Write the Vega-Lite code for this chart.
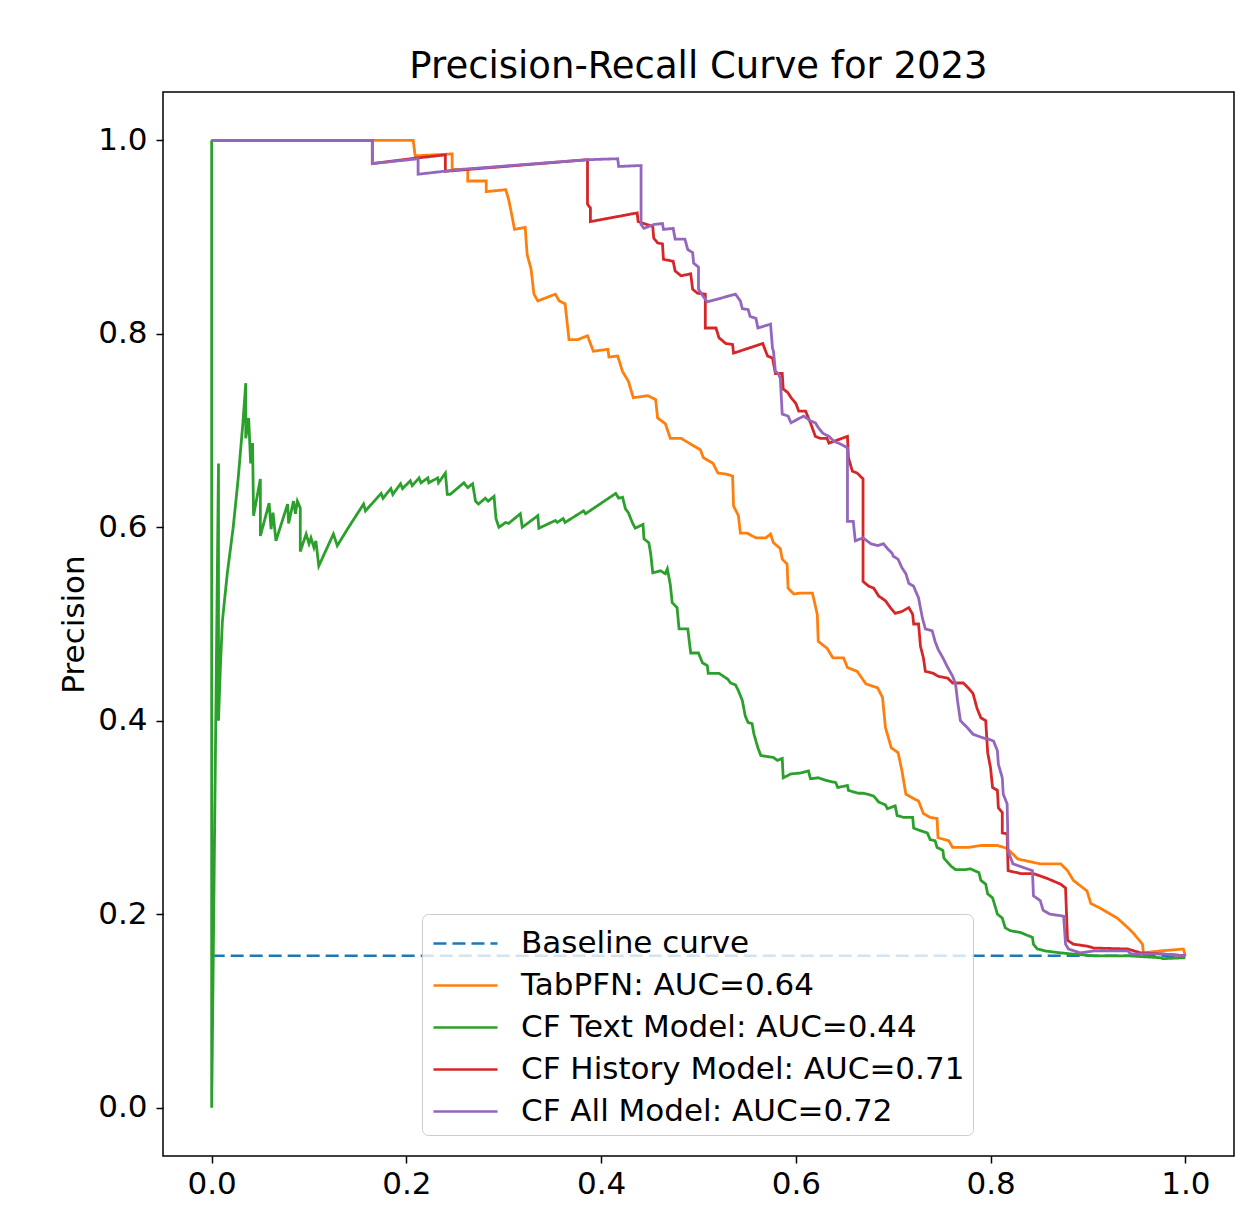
{
  "$schema": "https://vega.github.io/schema/vega-lite/v6.json",
  "width": 1071,
  "height": 1064,
  "autosize": "none",
  "padding": {"left": 163, "top": 92, "right": 6, "bottom": 50},
  "background": "white",
  "title": {"text": "Precision-Recall Curve for 2023", "fontSize": 37, "font": "DejaVu Sans", "fontWeight": "normal", "color": "black", "frame": "group", "anchor": "middle", "offset": 6},
  "config": {
    "font": "DejaVu Sans",
    "view": {"stroke": "black", "strokeWidth": 1.5},
    "axis": {"grid": false, "domain": false, "labelFontSize": 31, "labelColor": "black", "labelFont": "DejaVu Sans", "titleFontSize": 31, "titleFont": "DejaVu Sans", "titleFontWeight": "normal", "titleColor": "black", "tickColor": "black", "tickSize": 7, "tickWidth": 1.5, "labelFlush": false, "labelOverlap": false}
  },
  "datasets": {
    "base": [{"r":0,"p":0.157},{"r":1,"p":0.157}],
    "tab": [{"r":0,"p":1},{"r":0.207,"p":1},{"r":0.209,"p":0.984},{"r":0.247,"p":0.986},{"r":0.247,"p":0.970},{"r":0.263,"p":0.970},{"r":0.263,"p":0.958},{"r":0.282,"p":0.958},{"r":0.282,"p":0.947},{"r":0.302,"p":0.949},{"r":0.305,"p":0.939},{"r":0.309,"p":0.919},{"r":0.311,"p":0.908},{"r":0.322,"p":0.910},{"r":0.324,"p":0.882},{"r":0.328,"p":0.867},{"r":0.331,"p":0.841},{"r":0.335,"p":0.834},{"r":0.353,"p":0.841},{"r":0.357,"p":0.834},{"r":0.363,"p":0.831},{"r":0.367,"p":0.794},{"r":0.376,"p":0.794},{"r":0.386,"p":0.798},{"r":0.392,"p":0.782},{"r":0.407,"p":0.784},{"r":0.408,"p":0.776},{"r":0.417,"p":0.777},{"r":0.422,"p":0.761},{"r":0.428,"p":0.751},{"r":0.433,"p":0.734},{"r":0.448,"p":0.736},{"r":0.456,"p":0.732},{"r":0.458,"p":0.713},{"r":0.466,"p":0.707},{"r":0.471,"p":0.692},{"r":0.482,"p":0.692},{"r":0.492,"p":0.686},{"r":0.502,"p":0.680},{"r":0.505,"p":0.672},{"r":0.515,"p":0.666},{"r":0.520,"p":0.656},{"r":0.528,"p":0.655},{"r":0.535,"p":0.653},{"r":0.536,"p":0.622},{"r":0.541,"p":0.612},{"r":0.543,"p":0.594},{"r":0.550,"p":0.594},{"r":0.559,"p":0.589},{"r":0.569,"p":0.589},{"r":0.574,"p":0.593},{"r":0.577,"p":0.584},{"r":0.584,"p":0.578},{"r":0.586,"p":0.567},{"r":0.591,"p":0.562},{"r":0.592,"p":0.537},{"r":0.598,"p":0.531},{"r":0.605,"p":0.532},{"r":0.617,"p":0.532},{"r":0.622,"p":0.510},{"r":0.623,"p":0.482},{"r":0.632,"p":0.475},{"r":0.638,"p":0.465},{"r":0.649,"p":0.465},{"r":0.653,"p":0.455},{"r":0.663,"p":0.451},{"r":0.672,"p":0.438},{"r":0.684,"p":0.434},{"r":0.689,"p":0.424},{"r":0.692,"p":0.393},{"r":0.698,"p":0.372},{"r":0.705,"p":0.367},{"r":0.709,"p":0.348},{"r":0.713,"p":0.324},{"r":0.720,"p":0.320},{"r":0.726,"p":0.317},{"r":0.731,"p":0.304},{"r":0.738,"p":0.300},{"r":0.745,"p":0.299},{"r":0.746,"p":0.279},{"r":0.757,"p":0.276},{"r":0.761,"p":0.269},{"r":0.777,"p":0.269},{"r":0.790,"p":0.271},{"r":0.807,"p":0.271},{"r":0.817,"p":0.268},{"r":0.828,"p":0.257},{"r":0.851,"p":0.252},{"r":0.872,"p":0.252},{"r":0.879,"p":0.245},{"r":0.885,"p":0.235},{"r":0.899,"p":0.224},{"r":0.903,"p":0.211},{"r":0.913,"p":0.206},{"r":0.930,"p":0.196},{"r":0.941,"p":0.186},{"r":0.947,"p":0.180},{"r":0.956,"p":0.169},{"r":0.957,"p":0.160},{"r":0.974,"p":0.162},{"r":0.998,"p":0.164},{"r":1.0,"p":0.157}],
    "text": [{"r":0,"p":1},{"r":0,"p":0},{"r":0.007,"p":0.666},{"r":0.007,"p":0.400},{"r":0.009,"p":0.457},{"r":0.011,"p":0.503},{"r":0.016,"p":0.552},{"r":0.022,"p":0.599},{"r":0.027,"p":0.648},{"r":0.032,"p":0.707},{"r":0.035,"p":0.749},{"r":0.035,"p":0.692},{"r":0.038,"p":0.713},{"r":0.040,"p":0.666},{"r":0.042,"p":0.687},{"r":0.043,"p":0.612},{"r":0.050,"p":0.650},{"r":0.050,"p":0.591},{"r":0.059,"p":0.625},{"r":0.061,"p":0.598},{"r":0.063,"p":0.615},{"r":0.066,"p":0.586},{"r":0.078,"p":0.624},{"r":0.079,"p":0.604},{"r":0.084,"p":0.627},{"r":0.086,"p":0.614},{"r":0.088,"p":0.627},{"r":0.091,"p":0.620},{"r":0.091,"p":0.575},{"r":0.097,"p":0.593},{"r":0.100,"p":0.583},{"r":0.102,"p":0.589},{"r":0.105,"p":0.579},{"r":0.107,"p":0.586},{"r":0.110,"p":0.560},{"r":0.125,"p":0.593},{"r":0.129,"p":0.581},{"r":0.140,"p":0.599},{"r":0.156,"p":0.624},{"r":0.158,"p":0.617},{"r":0.174,"p":0.635},{"r":0.176,"p":0.630},{"r":0.184,"p":0.640},{"r":0.186,"p":0.634},{"r":0.194,"p":0.645},{"r":0.196,"p":0.640},{"r":0.204,"p":0.648},{"r":0.206,"p":0.643},{"r":0.213,"p":0.651},{"r":0.215,"p":0.646},{"r":0.222,"p":0.651},{"r":0.223,"p":0.646},{"r":0.232,"p":0.651},{"r":0.233,"p":0.646},{"r":0.240,"p":0.656},{"r":0.242,"p":0.634},{"r":0.245,"p":0.634},{"r":0.259,"p":0.646},{"r":0.263,"p":0.641},{"r":0.268,"p":0.645},{"r":0.271,"p":0.627},{"r":0.274,"p":0.624},{"r":0.281,"p":0.630},{"r":0.284,"p":0.627},{"r":0.290,"p":0.632},{"r":0.292,"p":0.609},{"r":0.295,"p":0.600},{"r":0.302,"p":0.605},{"r":0.305,"p":0.604},{"r":0.317,"p":0.614},{"r":0.319,"p":0.600},{"r":0.335,"p":0.612},{"r":0.336,"p":0.599},{"r":0.353,"p":0.607},{"r":0.355,"p":0.605},{"r":0.361,"p":0.609},{"r":0.363,"p":0.605},{"r":0.382,"p":0.617},{"r":0.384,"p":0.614},{"r":0.415,"p":0.635},{"r":0.418,"p":0.630},{"r":0.422,"p":0.631},{"r":0.425,"p":0.619},{"r":0.428,"p":0.615},{"r":0.432,"p":0.605},{"r":0.435,"p":0.599},{"r":0.443,"p":0.603},{"r":0.444,"p":0.588},{"r":0.449,"p":0.584},{"r":0.451,"p":0.572},{"r":0.453,"p":0.553},{"r":0.461,"p":0.555},{"r":0.466,"p":0.552},{"r":0.468,"p":0.557},{"r":0.471,"p":0.541},{"r":0.473,"p":0.522},{"r":0.478,"p":0.517},{"r":0.480,"p":0.495},{"r":0.489,"p":0.495},{"r":0.492,"p":0.470},{"r":0.500,"p":0.470},{"r":0.504,"p":0.460},{"r":0.509,"p":0.457},{"r":0.510,"p":0.449},{"r":0.521,"p":0.449},{"r":0.530,"p":0.443},{"r":0.533,"p":0.439},{"r":0.538,"p":0.437},{"r":0.541,"p":0.431},{"r":0.545,"p":0.421},{"r":0.548,"p":0.405},{"r":0.551,"p":0.398},{"r":0.555,"p":0.397},{"r":0.557,"p":0.386},{"r":0.561,"p":0.372},{"r":0.564,"p":0.364},{"r":0.577,"p":0.362},{"r":0.581,"p":0.359},{"r":0.586,"p":0.361},{"r":0.587,"p":0.341},{"r":0.595,"p":0.345},{"r":0.605,"p":0.346},{"r":0.613,"p":0.348},{"r":0.615,"p":0.340},{"r":0.623,"p":0.341},{"r":0.632,"p":0.338},{"r":0.641,"p":0.336},{"r":0.643,"p":0.331},{"r":0.653,"p":0.333},{"r":0.654,"p":0.328},{"r":0.664,"p":0.325},{"r":0.669,"p":0.325},{"r":0.674,"p":0.324},{"r":0.680,"p":0.322},{"r":0.685,"p":0.316},{"r":0.692,"p":0.313},{"r":0.694,"p":0.309},{"r":0.702,"p":0.312},{"r":0.704,"p":0.302},{"r":0.711,"p":0.300},{"r":0.720,"p":0.300},{"r":0.721,"p":0.289},{"r":0.726,"p":0.287},{"r":0.735,"p":0.284},{"r":0.738,"p":0.277},{"r":0.743,"p":0.276},{"r":0.745,"p":0.269},{"r":0.751,"p":0.266},{"r":0.752,"p":0.258},{"r":0.759,"p":0.250},{"r":0.764,"p":0.246},{"r":0.774,"p":0.246},{"r":0.779,"p":0.247},{"r":0.788,"p":0.243},{"r":0.790,"p":0.235},{"r":0.795,"p":0.231},{"r":0.797,"p":0.221},{"r":0.802,"p":0.217},{"r":0.805,"p":0.207},{"r":0.807,"p":0.200},{"r":0.812,"p":0.196},{"r":0.815,"p":0.186},{"r":0.820,"p":0.183},{"r":0.831,"p":0.181},{"r":0.838,"p":0.178},{"r":0.843,"p":0.176},{"r":0.844,"p":0.169},{"r":0.848,"p":0.164},{"r":0.856,"p":0.162},{"r":0.872,"p":0.160},{"r":0.882,"p":0.159},{"r":0.906,"p":0.157},{"r":0.941,"p":0.157},{"r":0.974,"p":0.155},{"r":0.977,"p":0.154},{"r":1.0,"p":0.155}],
    "hist": [{"r":0,"p":1},{"r":0.165,"p":1},{"r":0.165,"p":0.976},{"r":0.213,"p":0.982},{"r":0.240,"p":0.985},{"r":0.240,"p":0.968},{"r":0.386,"p":0.980},{"r":0.386,"p":0.934},{"r":0.389,"p":0.930},{"r":0.389,"p":0.916},{"r":0.437,"p":0.925},{"r":0.438,"p":0.916},{"r":0.444,"p":0.914},{"r":0.453,"p":0.911},{"r":0.454,"p":0.899},{"r":0.458,"p":0.894},{"r":0.463,"p":0.893},{"r":0.464,"p":0.877},{"r":0.474,"p":0.875},{"r":0.476,"p":0.865},{"r":0.482,"p":0.860},{"r":0.492,"p":0.862},{"r":0.494,"p":0.846},{"r":0.499,"p":0.842},{"r":0.507,"p":0.841},{"r":0.507,"p":0.806},{"r":0.518,"p":0.806},{"r":0.521,"p":0.796},{"r":0.528,"p":0.790},{"r":0.535,"p":0.789},{"r":0.536,"p":0.780},{"r":0.566,"p":0.790},{"r":0.569,"p":0.782},{"r":0.571,"p":0.777},{"r":0.576,"p":0.775},{"r":0.579,"p":0.759},{"r":0.586,"p":0.759},{"r":0.587,"p":0.743},{"r":0.592,"p":0.739},{"r":0.595,"p":0.734},{"r":0.600,"p":0.728},{"r":0.603,"p":0.720},{"r":0.610,"p":0.720},{"r":0.615,"p":0.708},{"r":0.620,"p":0.694},{"r":0.625,"p":0.692},{"r":0.632,"p":0.692},{"r":0.634,"p":0.687},{"r":0.653,"p":0.694},{"r":0.654,"p":0.672},{"r":0.658,"p":0.658},{"r":0.663,"p":0.656},{"r":0.669,"p":0.650},{"r":0.669,"p":0.544},{"r":0.675,"p":0.539},{"r":0.680,"p":0.537},{"r":0.685,"p":0.529},{"r":0.692,"p":0.524},{"r":0.697,"p":0.517},{"r":0.702,"p":0.511},{"r":0.709,"p":0.513},{"r":0.716,"p":0.517},{"r":0.720,"p":0.510},{"r":0.721,"p":0.500},{"r":0.726,"p":0.500},{"r":0.728,"p":0.477},{"r":0.731,"p":0.465},{"r":0.733,"p":0.451},{"r":0.741,"p":0.449},{"r":0.746,"p":0.446},{"r":0.756,"p":0.444},{"r":0.761,"p":0.439},{"r":0.772,"p":0.439},{"r":0.777,"p":0.434},{"r":0.782,"p":0.428},{"r":0.786,"p":0.413},{"r":0.790,"p":0.403},{"r":0.795,"p":0.400},{"r":0.797,"p":0.367},{"r":0.800,"p":0.351},{"r":0.802,"p":0.331},{"r":0.807,"p":0.328},{"r":0.808,"p":0.310},{"r":0.812,"p":0.305},{"r":0.812,"p":0.284},{"r":0.817,"p":0.283},{"r":0.818,"p":0.245},{"r":0.831,"p":0.242},{"r":0.844,"p":0.242},{"r":0.858,"p":0.237},{"r":0.872,"p":0.231},{"r":0.877,"p":0.227},{"r":0.879,"p":0.173},{"r":0.885,"p":0.169},{"r":0.899,"p":0.167},{"r":0.906,"p":0.165},{"r":0.941,"p":0.164},{"r":0.954,"p":0.160},{"r":0.974,"p":0.159},{"r":1.0,"p":0.157}],
    "all": [{"r":0,"p":1},{"r":0.165,"p":1},{"r":0.165,"p":0.976},{"r":0.212,"p":0.981},{"r":0.212,"p":0.965},{"r":0.256,"p":0.970},{"r":0.386,"p":0.980},{"r":0.417,"p":0.981},{"r":0.418,"p":0.973},{"r":0.441,"p":0.974},{"r":0.441,"p":0.913},{"r":0.444,"p":0.909},{"r":0.454,"p":0.913},{"r":0.463,"p":0.914},{"r":0.464,"p":0.908},{"r":0.474,"p":0.909},{"r":0.476,"p":0.898},{"r":0.486,"p":0.898},{"r":0.489,"p":0.887},{"r":0.494,"p":0.884},{"r":0.495,"p":0.873},{"r":0.500,"p":0.869},{"r":0.500,"p":0.846},{"r":0.506,"p":0.837},{"r":0.509,"p":0.833},{"r":0.538,"p":0.841},{"r":0.543,"p":0.834},{"r":0.545,"p":0.826},{"r":0.551,"p":0.825},{"r":0.553,"p":0.818},{"r":0.559,"p":0.816},{"r":0.561,"p":0.806},{"r":0.574,"p":0.810},{"r":0.576,"p":0.785},{"r":0.577,"p":0.782},{"r":0.579,"p":0.761},{"r":0.582,"p":0.759},{"r":0.584,"p":0.754},{"r":0.586,"p":0.717},{"r":0.592,"p":0.715},{"r":0.595,"p":0.708},{"r":0.608,"p":0.715},{"r":0.615,"p":0.710},{"r":0.620,"p":0.708},{"r":0.623,"p":0.703},{"r":0.628,"p":0.697},{"r":0.634,"p":0.694},{"r":0.639,"p":0.689},{"r":0.646,"p":0.686},{"r":0.653,"p":0.682},{"r":0.653,"p":0.606},{"r":0.659,"p":0.606},{"r":0.661,"p":0.586},{"r":0.669,"p":0.589},{"r":0.677,"p":0.583},{"r":0.684,"p":0.581},{"r":0.690,"p":0.583},{"r":0.694,"p":0.578},{"r":0.699,"p":0.573},{"r":0.700,"p":0.570},{"r":0.705,"p":0.567},{"r":0.709,"p":0.558},{"r":0.713,"p":0.552},{"r":0.716,"p":0.542},{"r":0.721,"p":0.539},{"r":0.723,"p":0.534},{"r":0.726,"p":0.527},{"r":0.730,"p":0.506},{"r":0.733,"p":0.495},{"r":0.740,"p":0.493},{"r":0.743,"p":0.482},{"r":0.746,"p":0.474},{"r":0.751,"p":0.465},{"r":0.756,"p":0.455},{"r":0.761,"p":0.446},{"r":0.764,"p":0.438},{"r":0.766,"p":0.421},{"r":0.769,"p":0.400},{"r":0.776,"p":0.393},{"r":0.782,"p":0.386},{"r":0.793,"p":0.382},{"r":0.798,"p":0.381},{"r":0.803,"p":0.379},{"r":0.807,"p":0.369},{"r":0.808,"p":0.355},{"r":0.812,"p":0.341},{"r":0.813,"p":0.324},{"r":0.817,"p":0.314},{"r":0.818,"p":0.265},{"r":0.823,"p":0.252},{"r":0.843,"p":0.245},{"r":0.844,"p":0.219},{"r":0.851,"p":0.214},{"r":0.854,"p":0.204},{"r":0.861,"p":0.200},{"r":0.875,"p":0.198},{"r":0.877,"p":0.169},{"r":0.880,"p":0.164},{"r":0.892,"p":0.160},{"r":0.906,"p":0.162},{"r":0.941,"p":0.162},{"r":0.944,"p":0.159},{"r":0.974,"p":0.159},{"r":1.0,"p":0.157}]
  },
  "encoding": {
    "x": {"field": "r", "type": "quantitative", "title": "Recall", "scale": {"domain": [-0.05, 1.05], "nice": false, "zero": false}, "axis": {"values": [0, 0.2, 0.4, 0.6, 0.8, 1.0], "format": ".1f", "labelPadding": 6, "titlePadding": 6}},
    "y": {"field": "p", "type": "quantitative", "title": "Precision", "scale": {"domain": [-0.05, 1.05], "nice": false, "zero": false}, "axis": {"values": [0, 0.2, 0.4, 0.6, 0.8, 1.0], "format": ".1f", "labelPadding": 9, "titlePadding": 7}},
    "order": {"value": null}
  },
  "layer": [
    {"data": {"name": "base"}, "mark": {"type": "line", "strokeWidth": 2.5},
     "encoding": {
       "color": {"datum": "Baseline curve", "type": "nominal", "scale": {"domain": ["Baseline curve", "TabPFN: AUC=0.64", "CF Text Model: AUC=0.44", "CF History Model: AUC=0.71", "CF All Model: AUC=0.72"], "range": ["#1f77b4", "#ff7f0e", "#2ca02c", "#d62728", "#9467bd"]},
         "legend": {"orient": "none", "legendX": 259, "legendY": 822, "title": null, "labelFontSize": 31, "labelFont": "DejaVu Sans", "labelColor": "black", "symbolType": "M-1.61,0H1.61", "symbolSize": 1584, "symbolStrokeWidth": 2.5, "rowPadding": 5, "padding": 8, "symbolOffset": 14, "labelOffset": 34, "fillColor": "rgba(255,255,255,0.8)", "strokeColor": "#cccccc", "cornerRadius": 6, "labelLimit": 0}},
       "strokeDash": {"datum": "Baseline curve", "type": "nominal", "scale": {"domain": ["Baseline curve", "TabPFN: AUC=0.64", "CF Text Model: AUC=0.44", "CF History Model: AUC=0.71", "CF All Model: AUC=0.72"], "range": [[13, 6], [1, 0], [1, 0], [1, 0], [1, 0]]},
         "legend": {"orient": "none", "legendX": 259, "legendY": 822, "title": null, "labelFontSize": 31, "labelFont": "DejaVu Sans", "labelColor": "black", "symbolType": "M-1.61,0H1.61", "symbolSize": 1584, "symbolStrokeWidth": 2.5, "rowPadding": 5, "padding": 8, "symbolOffset": 14, "labelOffset": 34, "fillColor": "rgba(255,255,255,0.8)", "strokeColor": "#cccccc", "cornerRadius": 6, "labelLimit": 0}}
     }},
    {"data": {"name": "tab"}, "mark": {"type": "line", "strokeWidth": 2.8},
     "encoding": {"color": {"datum": "TabPFN: AUC=0.64", "type": "nominal"}, "strokeDash": {"datum": "TabPFN: AUC=0.64", "type": "nominal"}}},
    {"data": {"name": "text"}, "mark": {"type": "line", "strokeWidth": 2.8},
     "encoding": {"color": {"datum": "CF Text Model: AUC=0.44", "type": "nominal"}, "strokeDash": {"datum": "CF Text Model: AUC=0.44", "type": "nominal"}}},
    {"data": {"name": "hist"}, "mark": {"type": "line", "strokeWidth": 2.8},
     "encoding": {"color": {"datum": "CF History Model: AUC=0.71", "type": "nominal"}, "strokeDash": {"datum": "CF History Model: AUC=0.71", "type": "nominal"}}},
    {"data": {"name": "all"}, "mark": {"type": "line", "strokeWidth": 2.8},
     "encoding": {"color": {"datum": "CF All Model: AUC=0.72", "type": "nominal"}, "strokeDash": {"datum": "CF All Model: AUC=0.72", "type": "nominal"}}}
  ]
}
